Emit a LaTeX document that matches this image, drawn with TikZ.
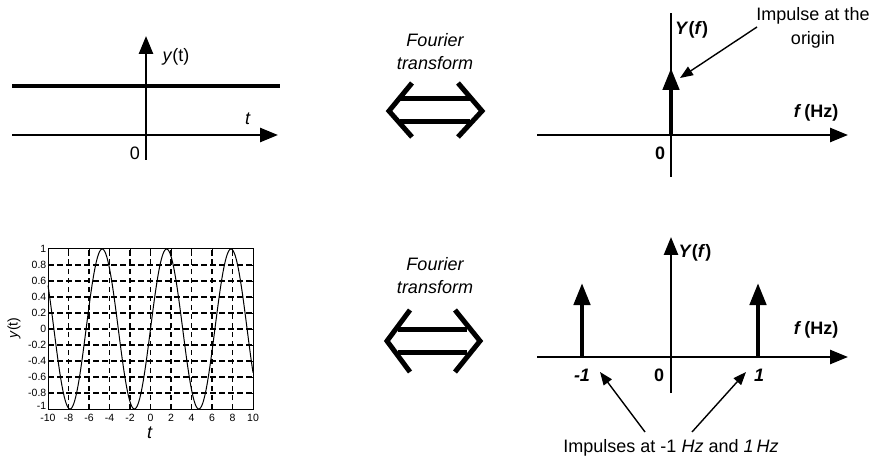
\documentclass[tikz,border=0pt]{standalone}
\usepackage{fontspec}
\setmainfont{Liberation Sans}
\usetikzlibrary{arrows.meta}
\begin{document}
\begin{tikzpicture}[x=1pt,y=-1pt,
  lbl/.style={font=\fontsize{18}{24}\selectfont, inner sep=0pt},
  ticklbl/.style={font=\fontsize{10.5}{12}\selectfont, inner sep=0pt},
  axisline/.style={line width=2.6pt},
  axisarrow/.style={line width=2.6pt, -{Triangle[length=18pt,width=14pt]}},
  impulse/.style={line width=4.5pt, -{Triangle[length=22pt,width=16pt]}},
  note/.style={line width=1.4pt, -{Triangle[length=13pt,width=10pt]}},
  dbl/.style={line width=5pt, line join=miter, line cap=butt},
  gridl/.style={line width=1.1pt, dash pattern=on 5.5pt off 3.5pt},
]
\useasboundingbox (0,0) rectangle (873,457);
\fill[white] (0,0) rectangle (873,457);

% ---------- top left: constant ----------
\coordinate (tlx0) at (12,135);
\coordinate (tlx1) at (278,135);
\coordinate (tly0) at (146,160);
\coordinate (tly1) at (146,36);
\coordinate (tlc0) at (12,86);
\coordinate (tlc1) at (280,86);
\draw[axisarrow] (tlx0) -- (tlx1);
\draw[axisarrow] (tly0) -- (tly1);
\draw[line width=3.6pt] (tlc0) -- (tlc1);
\node[lbl] (tlylab) at (176,57) {\textit{y}(t)};
\node[lbl] (tltlab) at (248,119) {\textit{t}};
\node[lbl] (tlzero) at (135,153) {0};

% ---------- top middle: Fourier transform ----------
\node[lbl, align=center, font=\fontsize{18}{23}\selectfont\itshape] (ft1) at (435,52) {Fourier\\transform};
\draw[dbl] (412,83) -- (389,111) -- (412,137);
\draw[dbl] (458,83) -- (482,111) -- (458,137);
\draw[dbl] (400,99) -- (470,99);
\draw[dbl] (400,122) -- (470,122);

% ---------- top right: impulse at origin ----------
\coordinate (trx0) at (537,135);
\coordinate (trx1) at (848,135);
\coordinate (try0) at (671,177);
\coordinate (try1) at (671,13);
\coordinate (trimp) at (671,68);
\draw[axisarrow] (trx0) -- (trx1);
\draw[axisline] (try0) -- (try1);
\draw[impulse] (671,135) -- (trimp);
\node[lbl, anchor=west] (trYlab) at (675,30) {\textbf{\textit{Y}(\textit{f})}};
\node[lbl] (trflab) at (816,113) {\textbf{\textit{f}\,(Hz)}};
\node[lbl] (trzero) at (660,153) {\textbf{0}};
\node[lbl, align=center] (trnote) at (813,28) {Impulse at the\\origin};
\coordinate (trnotestart) at (757,27);
\coordinate (trnoteend) at (680,78);
\draw[note] (trnotestart) -- (trnoteend);

% ---------- bottom left: sine plot ----------
\begin{scope}[shift={(150.5,329)}, x=10.25pt, y=80pt]
  \foreach \gx in {-8,-6,...,8} \draw[gridl] (\gx,-1) -- (\gx,1);
  \foreach \i in {-4,...,4} \draw[gridl] (-10,\i/5) -- (10,\i/5);
  \foreach \gx in {-8,-6,...,8} {
    \draw[line width=0.6pt] (\gx,-1) -- (\gx,-0.96);
    \draw[line width=0.6pt] (\gx,1) -- (\gx,0.96);
  }
  \foreach \i in {-4,...,4} {
    \draw[line width=0.6pt] (-10,\i/5) -- (-9.7,\i/5);
    \draw[line width=0.6pt] (10,\i/5) -- (9.7,\i/5);
  }
  \draw[line width=1pt] (-10,-1) rectangle (10,1);
  \draw[line width=1pt] plot[domain=-10:10, samples=240, smooth] (\x,{sin(\x r)});
  \foreach \gx in {-10,-8,...,10} \node[ticklbl, anchor=north] at (\gx,-1.06) {\gx};
  \foreach \i/\l in {-4/-0.8,-3/-0.6,-2/-0.4,-1/-0.2,0/0,1/0.2,2/0.4,3/0.6,4/0.8,5/1}
    \node[ticklbl, anchor=east] at (-10.15,\i/5) {\l};
  \node[ticklbl, anchor=east] at (-10.15,-0.96) {-1};
\end{scope}
\node[font=\fontsize{14}{16}\selectfont, inner sep=0pt, rotate=90] (blylab) at (14,328) {\textit{y}(t)};
\node[lbl] (bltlab) at (150,433) {\textit{t}};

% ---------- bottom middle: Fourier transform ----------
\node[lbl, align=center, font=\fontsize{18}{23}\selectfont\itshape] (ft2) at (435,276) {Fourier\\transform};
\draw[dbl] (410,310) -- (387,341) -- (410,372);
\draw[dbl] (455,310) -- (480,341) -- (455,372);
\draw[dbl] (398,329) -- (467,329);
\draw[dbl] (398,352) -- (467,352);

% ---------- bottom right: two impulses ----------
\coordinate (brx0) at (537,357);
\coordinate (brx1) at (848,357);
\coordinate (bry0) at (671,393);
\coordinate (bry1) at (671,237);
\draw[axisarrow] (brx0) -- (brx1);
\draw[axisarrow] (bry0) -- (bry1);
\draw[impulse] (582,357) -- (582,283);
\draw[impulse] (758,357) -- (758,283);
\node[lbl] (brYlab) at (695,253) {\textbf{\textit{Y}(\textit{f})}};
\node[lbl] (brflab) at (816,330) {\textbf{\textit{f}\,(Hz)}};
\node[lbl] (brm1) at (582,375) {\textbf{\textit{-1}}};
\node[lbl] (brzero) at (659,375) {\textbf{0}};
\node[lbl] (brp1) at (759,375) {\textbf{\textit{1}}};
\node[lbl] (brnote) at (671,448) {Impulses at -1 \textit{Hz} and \textit{1\,Hz}};
\coordinate (brn1s) at (645,432);
\coordinate (brn1e) at (600,372);
\coordinate (brn2s) at (692,432);
\coordinate (brn2e) at (746,372);
\draw[note] (brn1s) -- (brn1e);
\draw[note] (brn2s) -- (brn2e);
\end{tikzpicture}
\end{document}
